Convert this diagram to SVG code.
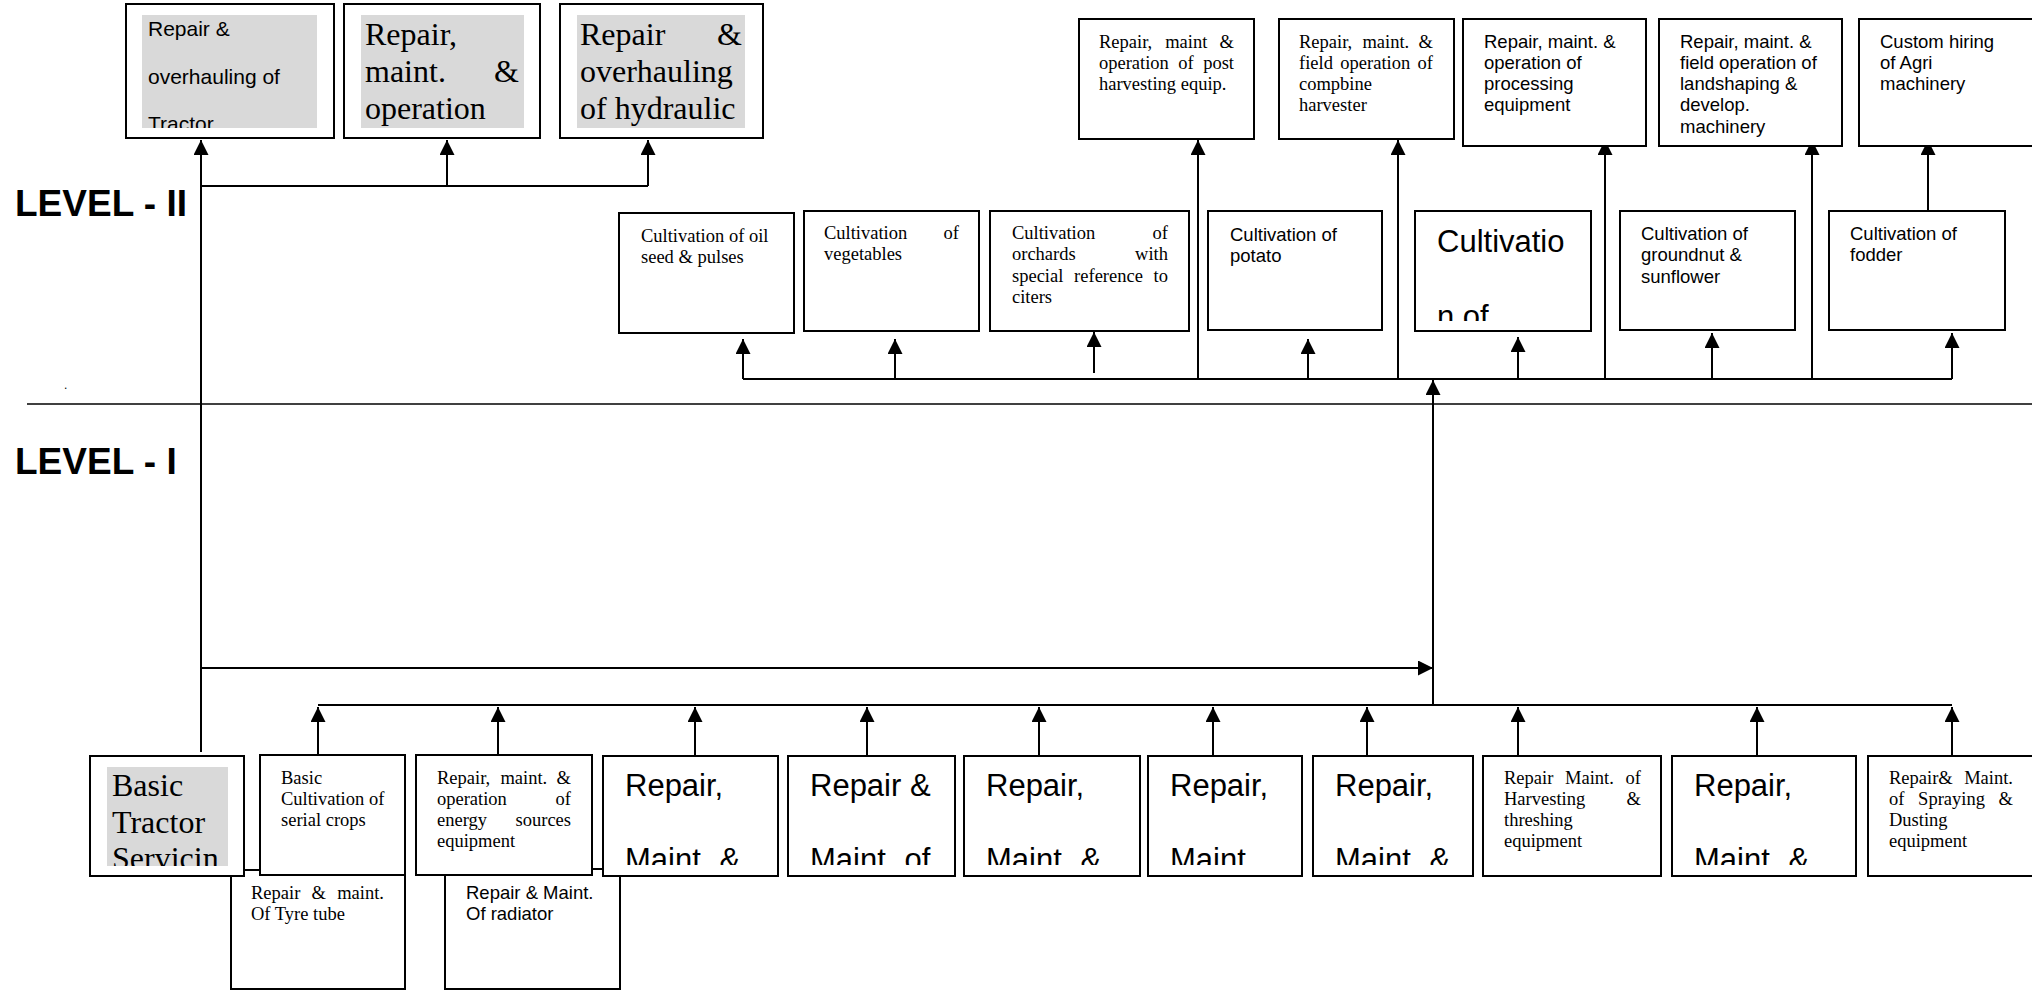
<svg xmlns="http://www.w3.org/2000/svg" width="2032" height="993" viewBox="0 0 2032 993">
<style>
.box{fill:#fff;stroke:#000;stroke-width:2}
.gray{fill:#d9d9d9;stroke:none}
.ln{fill:none;stroke:#000;stroke-width:2}
.sep{fill:none;stroke:#000;stroke-width:1.5}
.sans{font-family:"Liberation Sans",Arial,sans-serif;fill:#000}
.serif{font-family:"Liberation Serif","Times New Roman",serif;fill:#000}
.s18{font-size:18.5px}
.s21{font-size:21px}
.s31{font-size:31px}
.s32{font-size:32px}
.lvl{font-family:"Liberation Sans",Arial,sans-serif;font-weight:bold;font-size:37px;fill:#000}
.e{text-anchor:end}
</style>
<defs>
<marker id="ah" markerUnits="userSpaceOnUse" markerWidth="15" markerHeight="15" refX="15" refY="7.5" orient="auto">
<path d="M0,0 L15,7.5 L0,15 Z" fill="#000"/>
</marker>
<clipPath id="clipA"><rect x="142" y="15" width="175" height="113"/></clipPath>
<clipPath id="clipTr"><rect x="107" y="767" width="121" height="99"/></clipPath>
<clipPath id="clipCv"><rect x="1415" y="215" width="176" height="106"/></clipPath>
<clipPath id="clipBig"><rect x="0" y="740" width="2032" height="125"/></clipPath>
</defs>

<rect x="0" y="0" width="2032" height="993" fill="#fff"/>

<g id="labels">
<text class="lvl" x="15" y="216">LEVEL - II</text>
<text class="lvl" x="15" y="474">LEVEL - I</text>
<text class="sans" font-size="12" x="64" y="389">.</text>
<line class="sep" x1="27" y1="404" x2="2032" y2="404"/>
</g>

<g id="connectors">
<path class="ln" d="M201,752 L201,140" marker-end="url(#ah)"/>
<path class="ln" d="M201,186 L648,186"/>
<path class="ln" d="M447,186 L447,140" marker-end="url(#ah)"/>
<path class="ln" d="M648,186 L648,140" marker-end="url(#ah)"/>
<path class="ln" d="M201,668 L1433,668" marker-end="url(#ah)"/>
<path class="ln" d="M1433,705 L1433,380" marker-end="url(#ah)"/>
<path class="ln" d="M743,379 L1952,379"/>
<path class="ln" d="M743,379 L743,339" marker-end="url(#ah)"/>
<path class="ln" d="M895,379 L895,339" marker-end="url(#ah)"/>
<path class="ln" d="M1094,373 L1094,332" marker-end="url(#ah)"/>
<path class="ln" d="M1308,379 L1308,339" marker-end="url(#ah)"/>
<path class="ln" d="M1518,379 L1518,337" marker-end="url(#ah)"/>
<path class="ln" d="M1712,379 L1712,333" marker-end="url(#ah)"/>
<path class="ln" d="M1952,379 L1952,333" marker-end="url(#ah)"/>
<path class="ln" d="M1198,379 L1198,140" marker-end="url(#ah)"/>
<path class="ln" d="M1398,379 L1398,140" marker-end="url(#ah)"/>
<path class="ln" d="M1605,379 L1605,140" marker-end="url(#ah)"/>
<path class="ln" d="M1812,379 L1812,140" marker-end="url(#ah)"/>
<path class="ln" d="M1928,211 L1928,140" marker-end="url(#ah)"/>
<path class="ln" d="M318,705 L1952,705"/>
<path class="ln" d="M318,756 L318,707" marker-end="url(#ah)"/>
<path class="ln" d="M498,756 L498,707" marker-end="url(#ah)"/>
<path class="ln" d="M695,756 L695,707" marker-end="url(#ah)"/>
<path class="ln" d="M867,756 L867,707" marker-end="url(#ah)"/>
<path class="ln" d="M1039,756 L1039,707" marker-end="url(#ah)"/>
<path class="ln" d="M1213,756 L1213,707" marker-end="url(#ah)"/>
<path class="ln" d="M1367,756 L1367,707" marker-end="url(#ah)"/>
<path class="ln" d="M1518,756 L1518,707" marker-end="url(#ah)"/>
<path class="ln" d="M1757,756 L1757,707" marker-end="url(#ah)"/>
<path class="ln" d="M1952,756 L1952,707" marker-end="url(#ah)"/>
</g>

<!-- Level II top-left -->
<g id="n-tractor-overhaul">
<rect class="box" x="126" y="4" width="208" height="134"/>
<rect class="gray" x="142" y="15" width="175" height="113"/>
<g clip-path="url(#clipA)" class="sans s21">
<text x="148" y="36">Repair &amp;</text>
<text x="148" y="84">overhauling of</text>
<text x="148" y="131">Tractor</text>
</g>
</g>
<g id="n-repair-maint-op">
<rect class="box" x="344" y="4" width="196" height="134"/>
<rect class="gray" x="361" y="15" width="163" height="113"/>
<g class="serif s32">
<text x="365" y="45">Repair,</text>
<text x="365" y="82">maint.</text>
<text class="e" x="519" y="82">&amp;</text>
<text x="365" y="119">operation</text>
</g>
</g>
<g id="n-hydraulic">
<rect class="box" x="560" y="4" width="203" height="134"/>
<rect class="gray" x="577" y="15" width="168" height="113"/>
<g class="serif s32">
<text x="580" y="45">Repair</text>
<text class="e" x="742" y="45">&amp;</text>
<text x="580" y="82">overhauling</text>
<text x="580" y="119">of hydraulic</text>
</g>
</g>

<!-- Level II top-right -->
<g id="n-post-harvest">
<rect class="box" x="1079" y="19" width="175" height="120"/>
<g class="serif s18">
<text x="1099" y="47.5">Repair,</text>
<text x="1165.2" y="47.5">maint</text>
<text class="e" x="1234" y="47.5">&amp;</text>
<text x="1099" y="68.8">operation</text>
<text x="1178.3" y="68.8">of</text>
<text class="e" x="1234" y="68.8">post</text>
<text x="1099" y="90.1">harvesting equip.</text>
</g>
</g>
<g id="n-combine">
<rect class="box" x="1279" y="19" width="175" height="120"/>
<g class="serif s18">
<text x="1299" y="47.5">Repair,</text>
<text x="1362.4" y="47.5">maint.</text>
<text class="e" x="1433" y="47.5">&amp;</text>
<text x="1299" y="68.8">field</text>
<text x="1340.3" y="68.8">operation</text>
<text class="e" x="1433" y="68.8">of</text>
<text x="1299" y="90.1">compbine</text>
<text x="1299" y="111.4">harvester</text>
</g>
</g>
<g id="n-processing">
<rect class="box" x="1463" y="19" width="183" height="127"/>
<g class="sans s18">
<text x="1484" y="47.5">Repair, maint. &amp;</text>
<text x="1484" y="68.8">operation of</text>
<text x="1484" y="90.1">processing</text>
<text x="1484" y="111.4">equipment</text>
</g>
</g>
<g id="n-landshaping">
<rect class="box" x="1659" y="19" width="183" height="127"/>
<g class="sans s18">
<text x="1680" y="47.5">Repair, maint. &amp;</text>
<text x="1680" y="68.8">field operation of</text>
<text x="1680" y="90.1">landshaping &amp;</text>
<text x="1680" y="111.4">develop.</text>
<text x="1680" y="132.7">machinery</text>
</g>
</g>
<g id="n-custom-hiring">
<rect class="box" x="1859" y="19" width="185" height="127"/>
<g class="sans s18">
<text x="1880" y="47.5">Custom hiring</text>
<text x="1880" y="68.8">of Agri</text>
<text x="1880" y="90.1">machinery</text>
</g>
</g>

<!-- Level II cultivation row -->
<g id="n-oilseed">
<rect class="box" x="619" y="213" width="175" height="120"/>
<g class="serif s18">
<text x="641" y="242">Cultivation of oil</text>
<text x="641" y="263.3">seed &amp; pulses</text>
</g>
</g>
<g id="n-vegetables">
<rect class="box" x="804" y="211" width="175" height="120"/>
<g class="serif s18">
<text x="824" y="239">Cultivation</text>
<text class="e" x="959" y="239">of</text>
<text x="824" y="260.3">vegetables</text>
</g>
</g>
<g id="n-orchards">
<rect class="box" x="990" y="211" width="199" height="120"/>
<g class="serif s18">
<text x="1012" y="239">Cultivation</text>
<text class="e" x="1168" y="239">of</text>
<text x="1012" y="260.3">orchards</text>
<text class="e" x="1168" y="260.3">with</text>
<text x="1012" y="281.6">special</text>
<text x="1074.1" y="281.6">reference</text>
<text class="e" x="1168" y="281.6">to</text>
<text x="1012" y="302.9">citers</text>
</g>
</g>
<g id="n-potato">
<rect class="box" x="1208" y="211" width="174" height="119"/>
<g class="sans s18">
<text x="1230" y="241">Cultivation of</text>
<text x="1230" y="262.3">potato</text>
</g>
</g>
<g id="n-cultivatio">
<rect class="box" x="1415" y="211" width="176" height="120"/>
<g clip-path="url(#clipCv)" class="sans s31">
<text x="1437" y="252">Cultivatio</text>
<text x="1437" y="327">n of</text>
</g>
</g>
<g id="n-groundnut">
<rect class="box" x="1620" y="211" width="175" height="119"/>
<g class="sans s18">
<text x="1641" y="240">Cultivation of</text>
<text x="1641" y="261.3">groundnut &amp;</text>
<text x="1641" y="282.6">sunflower</text>
</g>
</g>
<g id="n-fodder">
<rect class="box" x="1829" y="211" width="176" height="119"/>
<g class="sans s18">
<text x="1850" y="240">Cultivation of</text>
<text x="1850" y="261.3">fodder</text>
</g>
</g>

<!-- Level I bottom row -->
<g id="n-tyre">
<rect class="box" x="231" y="870" width="174" height="119"/>
<g class="serif s18">
<text x="251" y="899">Repair</text>
<text x="311.6" y="899">&amp;</text>
<text class="e" x="384" y="899">maint.</text>
<text x="251" y="920">Of Tyre tube</text>
</g>
</g>
<g id="n-radiator">
<rect class="box" x="445" y="869" width="175" height="120"/>
<g class="sans s18">
<text x="466" y="899">Repair &amp; Maint.</text>
<text x="466" y="920">Of radiator</text>
</g>
</g>
<g id="n-basic-tractor">
<rect class="box" x="90" y="756" width="154" height="120"/>
<rect class="gray" x="107" y="767" width="121" height="99"/>
<g clip-path="url(#clipTr)" class="serif s32">
<text x="112" y="796">Basic</text>
<text x="112" y="833">Tractor</text>
<text x="112" y="869">Servicin</text>
</g>
</g>
<g id="n-basic-cultivation">
<rect class="box" x="260" y="755" width="145" height="120"/>
<g class="serif s18">
<text x="281" y="784">Basic</text>
<text x="281" y="805">Cultivation of</text>
<text x="281" y="826">serial crops</text>
</g>
</g>
<g id="n-energy">
<rect class="box" x="416" y="755" width="176" height="120"/>
<g class="serif s18">
<text x="437" y="784">Repair,</text>
<text x="500.4" y="784">maint.</text>
<text class="e" x="571" y="784">&amp;</text>
<text x="437" y="805">operation</text>
<text class="e" x="571" y="805">of</text>
<text x="437" y="826">energy</text>
<text class="e" x="571" y="826">sources</text>
<text x="437" y="847">equipment</text>
</g>
</g>
<g id="n-big1">
<rect class="box" x="603" y="756" width="175" height="120"/>
<g clip-path="url(#clipBig)" class="sans s31">
<text x="625" y="796">Repair,</text>
<text x="625" y="870">Maint<tspan dx="10"> &amp;</tspan></text>
</g>
</g>
<g id="n-big2">
<rect class="box" x="788" y="756" width="167" height="120"/>
<g clip-path="url(#clipBig)" class="sans s31">
<text x="810" y="796">Repair &amp;</text>
<text x="810" y="870">Maint<tspan dx="10"> of</tspan></text>
</g>
</g>
<g id="n-big3">
<rect class="box" x="964" y="756" width="176" height="120"/>
<g clip-path="url(#clipBig)" class="sans s31">
<text x="986" y="796">Repair,</text>
<text x="986" y="870">Maint<tspan dx="10"> &amp;</tspan></text>
</g>
</g>
<g id="n-big4">
<rect class="box" x="1148" y="756" width="154" height="120"/>
<g clip-path="url(#clipBig)" class="sans s31">
<text x="1170" y="796">Repair,</text>
<text x="1170" y="870">Maint</text>
</g>
</g>
<g id="n-big5">
<rect class="box" x="1313" y="756" width="160" height="120"/>
<g clip-path="url(#clipBig)" class="sans s31">
<text x="1335" y="796">Repair,</text>
<text x="1335" y="870">Maint<tspan dx="10"> &amp;</tspan></text>
</g>
</g>
<g id="n-harvesting">
<rect class="box" x="1483" y="756" width="178" height="120"/>
<g class="serif s18">
<text x="1504" y="784">Repair</text>
<text x="1565" y="784">Maint.</text>
<text class="e" x="1641" y="784">of</text>
<text x="1504" y="805">Harvesting</text>
<text class="e" x="1641" y="805">&amp;</text>
<text x="1504" y="826">threshing</text>
<text x="1504" y="847">equipment</text>
</g>
</g>
<g id="n-big6">
<rect class="box" x="1672" y="756" width="184" height="120"/>
<g clip-path="url(#clipBig)" class="sans s31">
<text x="1694" y="796">Repair,</text>
<text x="1694" y="870">Maint<tspan dx="10"> &amp;</tspan></text>
</g>
</g>
<g id="n-spraying">
<rect class="box" x="1868" y="756" width="175" height="120"/>
<g class="serif s18">
<text x="1889" y="784">Repair&amp;</text>
<text class="e" x="2013" y="784">Maint.</text>
<text x="1889" y="805">of</text>
<text x="1918.1" y="805">Spraying</text>
<text class="e" x="2013" y="805">&amp;</text>
<text x="1889" y="826">Dusting</text>
<text x="1889" y="847">equipment</text>
</g>
</g>
</svg>
